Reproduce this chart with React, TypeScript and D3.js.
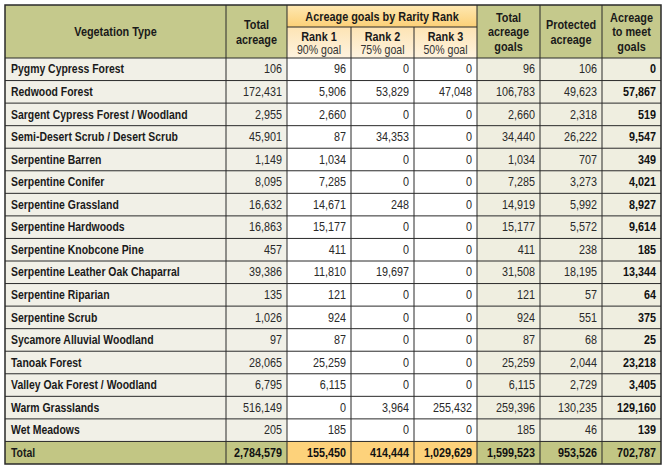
import React from "react";
import * as d3 from "d3";

const vegetationTypes = [
  "Pygmy Cypress Forest",
  "Redwood Forest",
  "Sargent Cypress Forest / Woodland",
  "Semi-Desert Scrub / Desert Scrub",
  "Serpentine Barren",
  "Serpentine Conifer",
  "Serpentine Grassland",
  "Serpentine Hardwoods",
  "Serpentine Knobcone Pine",
  "Serpentine Leather Oak Chaparral",
  "Serpentine Riparian",
  "Serpentine Scrub",
  "Sycamore Alluvial Woodland",
  "Tanoak Forest",
  "Valley Oak Forest / Woodland",
  "Warm Grasslands",
  "Wet Meadows",
];
const totalAcreage = [106, 172431, 2955, 45901, 1149, 8095, 16632, 16863, 457, 39386, 135, 1026, 97, 28065, 6795, 516149, 205];
const rank1Goal = [96, 5906, 2660, 87, 1034, 7285, 14671, 15177, 411, 11810, 121, 924, 87, 25259, 6115, 0, 185];
const rank2Goal = [0, 53829, 0, 34353, 0, 0, 248, 0, 0, 19697, 0, 0, 0, 0, 0, 3964, 0];
const rank3Goal = [0, 47048, 0, 0, 0, 0, 0, 0, 0, 0, 0, 0, 0, 0, 0, 255432, 0];
const totalGoals = [96, 106783, 2660, 34440, 1034, 7285, 14919, 15177, 411, 31508, 121, 924, 87, 25259, 6115, 259396, 185];
const protectedAcreage = [106, 49623, 2318, 26222, 707, 3273, 5992, 5572, 238, 18195, 57, 551, 68, 2044, 2729, 130235, 46];
const acreageToMeet = [0, 57867, 519, 9547, 349, 4021, 8927, 9614, 185, 13344, 64, 375, 25, 23218, 3405, 129160, 139];
const totalLabel = "Total";
const totalsRow = [2784579, 155450, 414444, 1029629, 1599523, 953526, 702787];
const rankHeaders = ["Rank 1", "Rank 2", "Rank 3"];
const rankSubHeaders = ["90% goal", "75% goal", "50% goal"];

const W = 666;
const H = 469;
const colEdges = [5, 226, 287, 351, 414, 477, 540, 602, 661];
const headerTop = 5;
const headerMid = 27;
const headerBottom = 58;
const tableBottom = 464;

const OLIVE = "#c5c98c";
const OLIVE_TOTAL = "#c2c684";
const ORANGE_TOTAL = "#fdd27b";
const NAME_BG = "#f1f0e7";
const GOAL_BG = "#efeee0";
const LINE = "#2a2a2a";

const FONT = "'Liberation Sans', Arial, Helvetica, sans-serif";
const fmt = d3.format(",");

type TProps = {
  x: number;
  y: number;
  anchor?: "start" | "middle" | "end";
  bold?: boolean;
  size?: number;
  sx?: number;
  fill?: string;
  children: React.ReactNode;
};

function T({ x, y, anchor = "start", bold = false, size = 12, sx = 0.88, fill = "#1a1a1a", children }: TProps) {
  return (
    <g transform={`translate(${x},${y}) scale(${sx},1)`}>
      <text x={0} y={0} dy="0.35em" textAnchor={anchor} fontFamily={FONT} fontWeight={bold ? "bold" : "normal"} fontSize={size} fill={fill}>
        {children}
      </text>
    </g>
  );
}

export default function App() {
  const nRows = vegetationTypes.length + 1;
  const y = d3
    .scaleBand<number>()
    .domain(d3.range(nRows))
    .range([headerBottom, tableBottom]);
  const rowH = y.bandwidth();

  const columns = [totalAcreage, rank1Goal, rank2Goal, rank3Goal, totalGoals, protectedAcreage, acreageToMeet];
  const colBg = [NAME_BG, "#ffffff", "#ffffff", "#ffffff", GOAL_BG, GOAL_BG, GOAL_BG];
  const totalBg = [OLIVE_TOTAL, ORANGE_TOTAL, ORANGE_TOTAL, ORANGE_TOTAL, OLIVE_TOTAL, OLIVE_TOTAL, OLIVE_TOTAL];

  const cxOf = (c: number) => (colEdges[c] + colEdges[c + 1]) / 2;
  const headerCy = (headerTop + headerBottom) / 2 + 0.5;

  const headerBlock = (lines: string[], cx: number, cy: number, lh: number, key: string) => (
    <g key={key}>
      {lines.map((l, i) => (
        <T key={i} x={cx} y={cy + (i - (lines.length - 1) / 2) * lh} anchor="middle" bold size={12.5} sx={0.87}>
          {l}
        </T>
      ))}
    </g>
  );

  return (
    <svg width={W} height={H} style={{ position: "absolute", left: 0, top: 0, background: "#fff" }}>
      <defs>
        <linearGradient id="gTop" x1="0" y1="0" x2="0" y2="1">
          <stop offset="0" stopColor="#fee8b2" />
          <stop offset="1" stopColor="#fcd077" />
        </linearGradient>
        <linearGradient id="gSub" x1="0" y1="0" x2="0" y2="1">
          <stop offset="0" stopColor="#fde4b4" />
          <stop offset="1" stopColor="#fef3e0" />
        </linearGradient>
      </defs>

      {/* header backgrounds */}
      <rect x={colEdges[0]} y={headerTop} width={colEdges[2] - colEdges[0]} height={headerBottom - headerTop} fill={OLIVE} />
      <rect x={colEdges[5]} y={headerTop} width={colEdges[8] - colEdges[5]} height={headerBottom - headerTop} fill={OLIVE} />
      <rect x={colEdges[2]} y={headerTop} width={colEdges[5] - colEdges[2]} height={headerMid - headerTop} fill="url(#gTop)" />
      <rect x={colEdges[2]} y={headerMid} width={colEdges[5] - colEdges[2]} height={headerBottom - headerMid} fill="url(#gSub)" />

      {/* body backgrounds */}
      {vegetationTypes.map((_, r) => (
        <g key={"bg" + r}>
          <rect x={colEdges[0]} y={y(r)!} width={colEdges[1] - colEdges[0]} height={rowH} fill={NAME_BG} />
          {columns.map((_, c) => (
            <rect key={c} x={colEdges[c + 1]} y={y(r)!} width={colEdges[c + 2] - colEdges[c + 1]} height={rowH} fill={colBg[c]} />
          ))}
        </g>
      ))}
      <rect x={colEdges[0]} y={y(nRows - 1)!} width={colEdges[1] - colEdges[0]} height={rowH} fill={OLIVE_TOTAL} />
      {totalsRow.map((_, c) => (
        <rect key={"tb" + c} x={colEdges[c + 1]} y={y(nRows - 1)!} width={colEdges[c + 2] - colEdges[c + 1]} height={rowH} fill={totalBg[c]} />
      ))}

      {/* grid lines */}
      {d3.range(nRows).map((r) => (
        <line key={"h" + r} x1={colEdges[0]} x2={colEdges[8]} y1={y(r)!} y2={y(r)!} stroke={LINE} strokeWidth={1} />
      ))}
      <line x1={colEdges[2]} x2={colEdges[5]} y1={headerMid} y2={headerMid} stroke={LINE} strokeWidth={1} />
      {colEdges.slice(1, -1).map((x, i) => {
        const isRankInner = i + 1 === 3 || i + 1 === 4;
        return <line key={"v" + i} x1={x} x2={x} y1={isRankInner ? headerMid : headerTop} y2={tableBottom} stroke={LINE} strokeWidth={1} />;
      })}
      <rect
        x={colEdges[0]}
        y={headerTop}
        width={colEdges[8] - colEdges[0]}
        height={tableBottom - headerTop}
        fill="none"
        stroke={LINE}
        strokeWidth={1.5}
      />

      {/* header text */}
      {headerBlock(["Vegetation Type"], cxOf(0), headerCy, 14, "h0")}
      {headerBlock(["Total", "acreage"], cxOf(1), headerCy, 14.5, "h1")}
      {headerBlock(["Acreage goals by Rarity Rank"], (colEdges[2] + colEdges[5]) / 2, (headerTop + headerMid) / 2 + 0.5, 14, "h2")}
      {rankHeaders.map((a, i) => (
        <g key={"rk" + i}>
          <T x={cxOf(i + 2)} y={36.5} anchor="middle" bold size={12.5} sx={0.87}>
            {a}
          </T>
          <T x={cxOf(i + 2)} y={50} anchor="middle" size={12} sx={0.88} fill="#333">
            {rankSubHeaders[i]}
          </T>
        </g>
      ))}
      {headerBlock(["Total", "acreage", "goals"], cxOf(5), headerCy, 14.5, "h5")}
      {headerBlock(["Protected", "acreage"], cxOf(6), headerCy, 14.5, "h6")}
      {headerBlock(["Acreage", "to meet", "goals"], cxOf(7), headerCy, 14.5, "h7")}

      {/* body text */}
      {vegetationTypes.map((name, r) => (
        <g key={"t" + r}>
          <T x={colEdges[0] + 6} y={y(r)! + rowH / 2} bold size={12} sx={0.87}>
            {name}
          </T>
          {columns.map((col, c) => (
            <T key={c} x={colEdges[c + 2] - 5} y={y(r)! + rowH / 2} anchor="end" bold={c === 6} size={12} sx={0.9} fill={c === 6 ? "#111" : "#2a2a2a"}>
              {fmt(col[r])}
            </T>
          ))}
        </g>
      ))}
      <T x={colEdges[0] + 6} y={y(nRows - 1)! + rowH / 2} bold size={12} sx={0.87}>
        {totalLabel}
      </T>
      {totalsRow.map((v, c) => (
        <T key={"tt" + c} x={colEdges[c + 2] - 5} y={y(nRows - 1)! + rowH / 2} anchor="end" bold size={12} sx={0.9} fill="#111">
          {fmt(v)}
        </T>
      ))}
    </svg>
  );
}
